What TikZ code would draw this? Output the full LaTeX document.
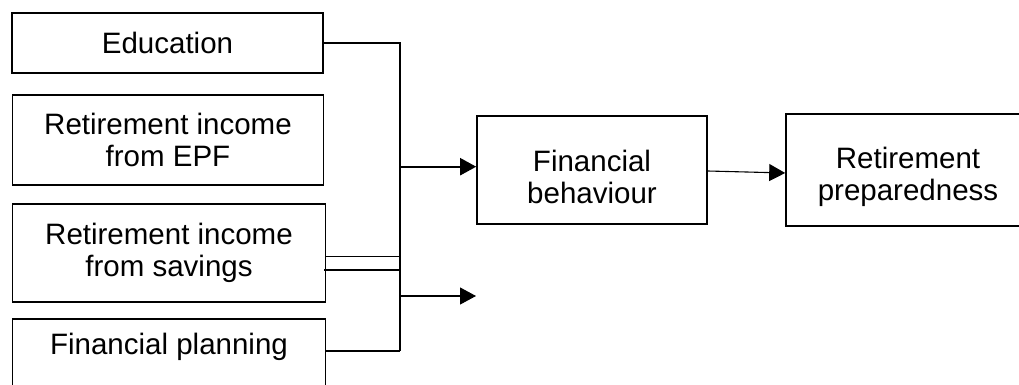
\documentclass[tikz,border=0pt]{standalone}
\usepackage{fontspec}
\setmainfont{Liberation Sans}
\usetikzlibrary{arrows.meta}
\begin{document}
\begin{tikzpicture}[x=1pt,y=-1pt,
  box/.style={draw, line width=1.6pt, inner sep=0pt, align=center,
    font=\fontsize{29.5pt}{32pt}\selectfont},
  conn/.style={line width=1.1pt},
  arr/.style={line width=1.1pt, -{Triangle[length=16pt,width=17pt]}}]
\useasboundingbox (0,0) rectangle (1019,385);
\clip (0,0) rectangle (1019,385);
\fill[white] (0,0) rectangle (1019,385);
% left boxes
\node[box, minimum width=311pt, minimum height=60pt] (edu) at (167.5,43) {Education};
\node[box, minimum width=311pt, minimum height=90pt] (epf) at (168,140) {Retirement income\\from EPF};
\node[box, minimum width=313pt, minimum height=98pt] (sav) at (169,253) {Retirement income\\from savings};
\node[box, minimum width=313pt, anchor=north, text height=36pt, text depth=46pt] (plan) at (169,318) {Financial planning};
% right boxes
\node[box, minimum width=230pt, minimum height=108pt, text height=67pt, text depth=0pt] (fb) at (592,170) {Financial\\behaviour};
\node[box, minimum width=244pt, minimum height=112pt, text height=67pt, text depth=6pt] (rp) at (908,170) {Retirement\\preparedness};
% bus coordinates
\coordinate (bb) at (400,351);
\coordinate (s1) at (400,256.7);
\coordinate (s2) at (400,270);
\coordinate (a1) at (400,166.7);
\coordinate (a2s) at (400,296);
\coordinate (a2e) at (476,296);
% connectors
\draw[conn] (edu.east) -| (bb);
\draw[conn] (plan.east |- bb) -- (bb);
\draw[conn] (sav.east |- s1) -- (s1);
\draw[conn] ([xshift=-2pt]sav.east |- s2) -- (s2);
\draw[arr, line width=2pt] (a1) -- (fb.west |- a1);
\draw[arr] (a2s) -- (a2e);
\draw[arr] ([yshift=-1pt]fb.east) -- ([yshift=-3pt]rp.west);
\end{tikzpicture}
\end{document}
